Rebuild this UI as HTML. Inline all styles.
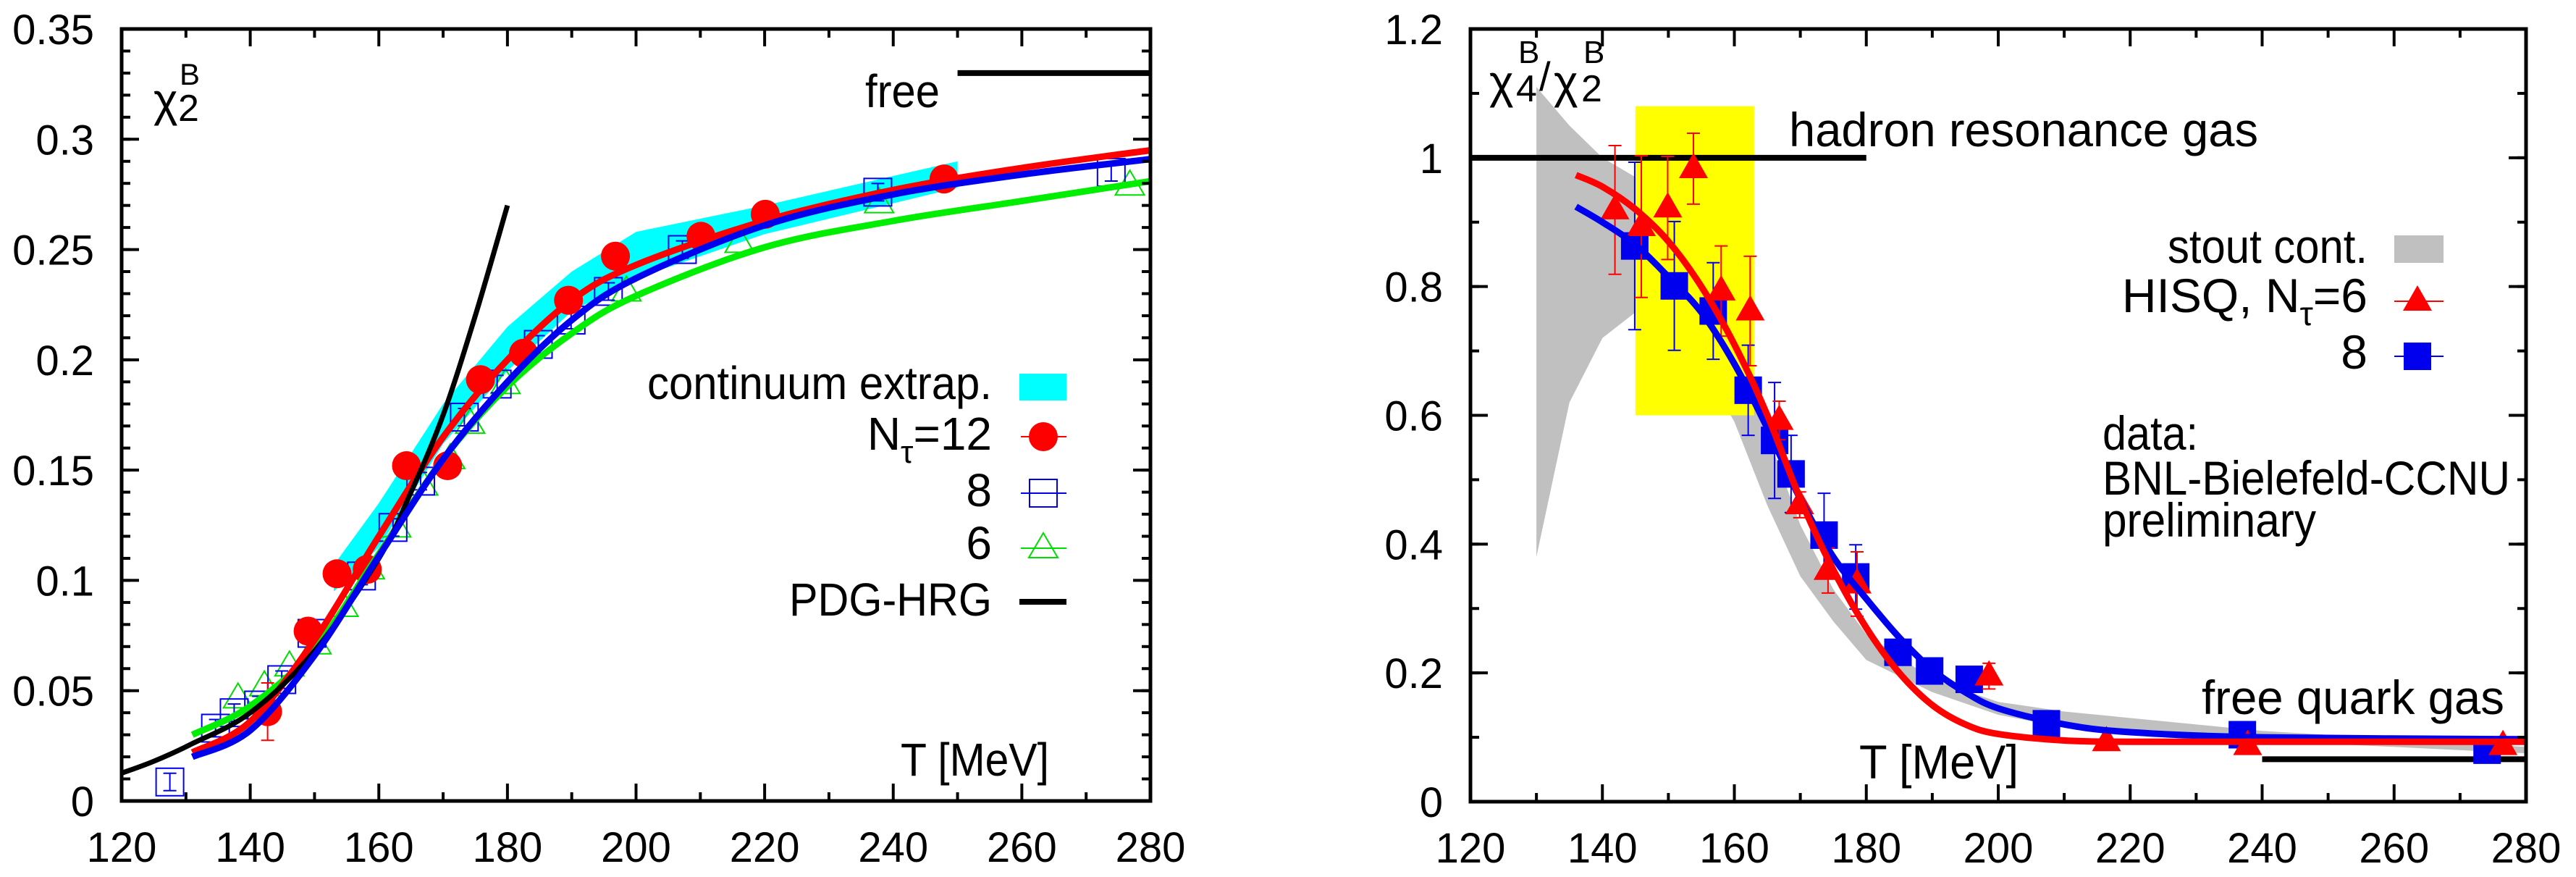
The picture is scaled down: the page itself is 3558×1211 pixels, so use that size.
<!DOCTYPE html>
<html><head><meta charset="utf-8"><style>
html,body{margin:0;padding:0;background:#fff;}
svg{display:block;font-family:"Liberation Sans",sans-serif;}
</style></head><body>
<svg id="fig" width="3558" height="1211" viewBox="0 0 3558 1211" xmlns="http://www.w3.org/2000/svg"></svg>
<script>
// ---------- Left chart data (chi2^B) ----------
const L_red_T = [142.7,149.0,153.5,158.2,164.3,170.7,175.8,182.5,189.5,196.8,210.1,220.1,247.9];
const L_red_V = [0.0405,0.077,0.103,0.105,0.152,0.152,0.191,0.203,0.227,0.247,0.256,0.266,0.282];
const L_red_E = [0.013,0.004,0.004,0.005,0.004,0.004,0.003,0.003,0.003,0.003,0.003,0.003,0.003];
const L_blue_T = [127.5,134.6,137.5,141.3,144.9,149.6,157.3,162.2,166.5,173.3,178.4,184.8,189.9,195.7,207.2,237.6,273.9];
const L_blue_V = [0.0086,0.033,0.040,0.0435,0.055,0.076,0.102,0.124,0.145,0.174,0.189,0.207,0.218,0.231,0.250,0.276,0.285];
const L_green_T = [138.1,142.2,146.1,150.3,154.5,158.6,162.7,166.9,171.1,174.2,179.7,198.5,216.1,237.8,276.8];
const L_green_V = [0.0465,0.052,0.061,0.071,0.088,0.105,0.124,0.143,0.155,0.171,0.189,0.231,0.253,0.271,0.279];
const L_fitT = [131,140,150,160,170,180,190,200,220,240,260,280];
const L_fitRed = [0.022,0.036,0.073,0.12,0.165,0.2,0.227,0.243,0.263,0.277,0.287,0.295];
const L_fitBlue = [0.020,0.032,0.066,0.111,0.155,0.19,0.218,0.237,0.261,0.275,0.284,0.291];
const L_fitGreen = [0.030,0.043,0.069,0.112,0.155,0.188,0.212,0.229,0.251,0.263,0.272,0.281];
const L_hrgT = [120,125,131,140,150,160,165,170,175,180];
const L_hrgV = [0.0126,0.018,0.026,0.040,0.068,0.110,0.140,0.175,0.220,0.270];
const L_bandT = [153,160,170,180,190,200,220,250];
const L_bandHi = [0.107,0.135,0.180,0.215,0.240,0.258,0.270,0.290];
const L_bandLo = [0.095,0.115,0.162,0.195,0.222,0.237,0.257,0.278];
const L_freeV = 0.33;
const L_xTicks = [120,140,160,180,200,220,240,260,280];
const L_yTicks = [0,0.05,0.1,0.15,0.2,0.25,0.3,0.35];
const L_yLabels = ["0","0.05","0.1","0.15","0.2","0.25","0.3","0.35"];

// ---------- Right chart data (chi4/chi2) ----------
const R_red_T = [141.9,145.9,149.9,153.8,158.0,162.4,166.8,169.9,174.2,178.6,198.6,216.4,237.8,276.5];
const R_red_V = [0.919,0.893,0.922,0.983,0.793,0.762,0.592,0.461,0.359,0.338,0.195,0.093,0.087,0.087];
const R_red_E = [0.10,0.11,0.08,0.055,0.07,0.085,0.03,0.02,0.035,0.05,0.02,0.005,0.005,0.005];
const R_blue_T = [144.9,150.9,156.8,162.1,166.1,168.6,173.6,178.4,184.8,189.6,195.6,207.3,237.0,274.1];
const R_blue_V = [0.863,0.801,0.762,0.639,0.561,0.509,0.414,0.349,0.232,0.203,0.190,0.121,0.104,0.080];
const R_blue_E = [0.13,0.10,0.075,0.07,0.09,0.06,0.065,0.05,0.01,0.01,0.01,0.01,0.01,0.01];
const R_fitT = [136,140,145,150,155,160,165,170,175,180,185,190,195,200,210,220,240,280];
const R_fitRed = [0.973,0.955,0.92,0.87,0.80,0.71,0.60,0.47,0.36,0.27,0.20,0.15,0.12,0.105,0.095,0.093,0.093,0.093];
const R_fitBlue = [0.924,0.90,0.865,0.815,0.76,0.68,0.58,0.47,0.38,0.315,0.255,0.205,0.17,0.145,0.12,0.108,0.10,0.097];
const R_bandT = [130,135,140,145,150,155,160,165,170,175,180,190,200,210,240,280];
const R_bandHi = [1.11,1.05,1.0,0.97,0.92,0.83,0.72,0.57,0.43,0.33,0.26,0.19,0.155,0.14,0.11,0.085];
const R_bandLo = [0.38,0.62,0.72,0.76,0.74,0.68,0.59,0.46,0.35,0.28,0.22,0.17,0.135,0.115,0.095,0.075];
const R_yellowT = [145,163];
const R_yellowV = [0.6,1.08];
const R_hrgV = 1.0;
const R_fqgV = 0.066;
const R_xTicks = [120,140,160,180,200,220,240,260,280];
const R_yTicks = [0,0.2,0.4,0.6,0.8,1,1.2];
const R_yLabels = ["0","0.2","0.4","0.6","0.8","1","1.2"];

const NS = "http://www.w3.org/2000/svg";
const svg = document.getElementById('fig');
function mk(tag, attrs, parent){
  const e = document.createElementNS(NS, tag);
  for (const k in attrs) e.setAttribute(k, attrs[k]);
  (parent||svg).appendChild(e);
  return e;
}
function txt(parent, x, y, s, size, anchor, len){
  const t = mk('text', {x:x, y:y, 'font-size':size, 'text-anchor':anchor||'start', fill:'#000'}, parent);
  if (len){ t.setAttribute('textLength', len); t.setAttribute('lengthAdjust','spacingAndGlyphs'); }
  t.textContent = s;
  return t;
}
function scales(x0,x1,y0,y1,vmax){
  return {sx: T => x0 + (T-120)/(160)*(x1-x0), sy: v => y0 - v/vmax*(y0-y1)};
}
function smoothD(Ts, Vs, S){
  const P = Ts.map((t,i)=>[S.sx(t),S.sy(Vs[i])]);
  let d = 'M'+P[0][0].toFixed(1)+','+P[0][1].toFixed(1);
  for (let i=0;i<P.length-1;i++){
    const p0=P[Math.max(i-1,0)],p1=P[i],p2=P[i+1],p3=P[Math.min(i+2,P.length-1)];
    const c1=[p1[0]+(p2[0]-p0[0])/6,p1[1]+(p2[1]-p0[1])/6];
    const c2=[p2[0]-(p3[0]-p1[0])/6,p2[1]-(p3[1]-p1[1])/6];
    d += 'C'+c1.map(v=>v.toFixed(1)).join(',')+' '+c2.map(v=>v.toFixed(1)).join(',')+' '+p2[0].toFixed(1)+','+p2[1].toFixed(1);
  }
  return d;
}
function bandD(Ts, Hi, Lo, S){
  let d = Ts.map((t,i)=>(i?'L':'M')+S.sx(t).toFixed(1)+','+S.sy(Hi[i]).toFixed(1)).join('');
  for (let i=Ts.length-1;i>=0;i--) d += 'L'+S.sx(Ts[i]).toFixed(1)+','+S.sy(Lo[i]).toFixed(1);
  return d+'Z';
}
function drawAxes(g, S, x0,x1,y0,y1, xT, yT, yL, yMinorStep, vmax){
  for (let T=130; T<280; T+=20){
    const x=S.sx(T);
    mk('line',{x1:x,y1:y0,x2:x,y2:y0-12,stroke:'#000','stroke-width':4},g);
    mk('line',{x1:x,y1:y1,x2:x,y2:y1+12,stroke:'#000','stroke-width':4},g);
  }
  for (let v=yMinorStep; v<vmax-1e-9; v+=yMinorStep){
    const y=S.sy(v);
    mk('line',{x1:x0,y1:y,x2:x0+12,y2:y,stroke:'#000','stroke-width':4},g);
    mk('line',{x1:x1,y1:y,x2:x1-12,y2:y,stroke:'#000','stroke-width':4},g);
  }
  xT.forEach(T=>{
    const x=S.sx(T);
    mk('line',{x1:x,y1:y0,x2:x,y2:y0-24,stroke:'#000','stroke-width':4},g);
    mk('line',{x1:x,y1:y1,x2:x,y2:y1+24,stroke:'#000','stroke-width':4},g);
    const t = txt(g, x, y0+84, String(T), 58, 'middle');
    
    
  });
  yT.forEach((v,i)=>{
    const y=S.sy(v);
    mk('line',{x1:x0,y1:y,x2:x0+24,y2:y,stroke:'#000','stroke-width':4},g);
    mk('line',{x1:x1,y1:y,x2:x1-24,y2:y,stroke:'#000','stroke-width':4},g);
    const t = txt(g, x0-38, y+21, yL[i], 58, 'end');
    
    
  });
}
function circle(g,x,y,col){ mk('circle',{cx:x,cy:y,r:20,fill:col},g); }
function openSquare(g,x,y,col){ mk('rect',{x:x-19,y:y-19,width:38,height:38,fill:'none',stroke:col,'stroke-width':2},g); }
function openTri(g,x,y,col){ mk('path',{d:`M${x},${y-21}L${x+20},${y+13}L${x-20},${y+13}Z`,fill:'none',stroke:col,'stroke-width':2},g); }
function fillTri(g,x,y,col){ mk('path',{d:`M${x},${y-22}L${x+20},${y+13}L${x-20},${y+13}Z`,fill:col},g); }
function fillSquare(g,x,y,col){ mk('rect',{x:x-19,y:y-19,width:38,height:38,fill:col},g); }
function errBar(g,x,yl,yh,col){
  mk('line',{x1:x,y1:yl,x2:x,y2:yh,stroke:col,'stroke-width':2},g);
  mk('line',{x1:x-9,y1:yl,x2:x+9,y2:yl,stroke:col,'stroke-width':2},g);
  mk('line',{x1:x-9,y1:yh,x2:x+9,y2:yh,stroke:col,'stroke-width':2},g);
}

// ================= LEFT =================
(function(){
  const x0=168,x1=1589,y0=1106,y1=40;
  const S = scales(x0,x1,y0,y1,0.35);
  const g = mk('g',{});
  
  
  const band = mk('path',{d:bandD(L_bandT,L_bandHi,L_bandLo,S),fill:'#00ffff'},g);
  
  
  const gg = mk('g',{},g);
  
  
  L_green_T.forEach((t,i)=>openTri(gg,S.sx(t),S.sy(L_green_V[i]),'#00dd00'));
  const gb = mk('g',{},g);
  
  
  L_blue_T.forEach((t,i)=>{ const x=S.sx(t),y=S.sy(L_blue_V[i]); openSquare(gb,x,y,'#0000ee'); errBar(gb,x,y-12,y+12,'#0000ee'); });
  const gr = mk('g',{},g);
  
  
  L_red_T.forEach((t,i)=>{ const x=S.sx(t),y=S.sy(L_red_V[i]); errBar(gr,x,S.sy(L_red_V[i]-L_red_E[i]),S.sy(L_red_V[i]+L_red_E[i]),'#ff0000'); circle(gr,x,y,'#ff0000'); });
  const lg = mk('path',{d:smoothD(L_fitT,L_fitGreen,S),fill:'none',stroke:'#00ee00','stroke-width':9},g);
  
  
  const lr = mk('path',{d:smoothD(L_fitT,L_fitRed,S),fill:'none',stroke:'#ff0000','stroke-width':9},g);
  
  
  const lh = mk('path',{d:smoothD(L_hrgT,L_hrgV,S),fill:'none',stroke:'#000','stroke-width':7},g);
  
  
  const lb = mk('path',{d:smoothD(L_fitT,L_fitBlue,S),fill:'none',stroke:'#0000ee','stroke-width':9},g);
  
  
  const fl = mk('line',{x1:S.sx(250),y1:S.sy(L_freeV),x2:x1,y2:S.sy(L_freeV),stroke:'#000','stroke-width':8},g);
  
  
  mk('rect',{x:x0,y:y1,width:x1-x0,height:y0-y1,fill:'none',stroke:'#000','stroke-width':5},g);
  drawAxes(g,S,x0,x1,y0,y1,L_xTicks,L_yTicks,L_yLabels,0.01,0.35);
  let t = txt(g,212,160,'χ',64);  
  t = txt(g,246,167,'2',52);  
  t = txt(g,248,117,'B',42);  
  t = txt(g,1195,148,'free',64,'start',103);  
  t = txt(g,1244,1071,'T [MeV]',64,'start',205);  
  const leg = mk('g',{},g);
  
  
  t = txt(leg,1370,551,'continuum extrap.',64,'end',476);  
  mk('rect',{x:1408,y:516,width:65,height:37,fill:'#00ffff'},leg);
  t = mk('text',{x:1370,y:621,'font-size':64,'text-anchor':'end',fill:'#000'},leg); t.innerHTML='N<tspan font-size="44" dy="18">τ</tspan><tspan dy="-18">=12</tspan>';
   
  mk('line',{x1:1410,y1:603,x2:1473,y2:603,stroke:'#ff0000','stroke-width':2},leg); circle(leg,1441,603,'#ff0000');
  t = txt(leg,1370,699,'8',64,'end');  
  mk('line',{x1:1410,y1:681,x2:1473,y2:681,stroke:'#0000ee','stroke-width':2},leg); openSquare(leg,1441,681,'#0000ee');
  t = txt(leg,1370,772,'6',64,'end');  
  mk('line',{x1:1410,y1:757,x2:1473,y2:757,stroke:'#00dd00','stroke-width':2},leg); openTri(leg,1441,757,'#00dd00');
  t = txt(leg,1370,850,'PDG-HRG',64,'end',280);  
  mk('line',{x1:1408,y1:831,x2:1473,y2:831,stroke:'#000','stroke-width':8},leg);
})();

// ================= RIGHT =================
(function(){
  const x0=2031,x1=3489,y0=1107,y1=40;
  const S = scales(x0,x1,y0,y1,1.2);
  const g = mk('g',{});
  
  
  const band = mk('path',{d:bandD(R_bandT,R_bandHi,R_bandLo,S),fill:'#c0c0c0'},g);
  
  
  const yr = mk('rect',{x:S.sx(R_yellowT[0]),y:S.sy(R_yellowV[1]),width:S.sx(R_yellowT[1])-S.sx(R_yellowT[0]),height:S.sy(R_yellowV[0])-S.sy(R_yellowV[1]),fill:'#ffff00'},g);
  
  
  const hl = mk('line',{x1:x0,y1:S.sy(R_hrgV),x2:S.sx(180),y2:S.sy(R_hrgV),stroke:'#000','stroke-width':8},g);
  
  
  const fq = mk('line',{x1:S.sx(240),y1:S.sy(R_fqgV),x2:x1,y2:S.sy(R_fqgV),stroke:'#000','stroke-width':8},g);
  
  
  const gb = mk('g',{},g);
  
  
  R_blue_T.forEach((t,i)=>{ const x=S.sx(t),v=R_blue_V[i]; errBar(gb,x,S.sy(v-R_blue_E[i]),S.sy(v+R_blue_E[i]),'#0000ee'); fillSquare(gb,x,S.sy(v),'#0000ee'); });
  const gr = mk('g',{},g);
  
  
  R_red_T.forEach((t,i)=>{ const x=S.sx(t),v=R_red_V[i]; errBar(gr,x,S.sy(v-R_red_E[i]),S.sy(v+R_red_E[i]),'#ff0000'); fillTri(gr,x,S.sy(v),'#ff0000'); });
  const lb = mk('path',{d:smoothD(R_fitT,R_fitBlue,S),fill:'none',stroke:'#0000ee','stroke-width':9},g);
  
  
  const lr = mk('path',{d:smoothD(R_fitT,R_fitRed,S),fill:'none',stroke:'#ff0000','stroke-width':9},g);
  
  
  mk('rect',{x:x0,y:y1,width:x1-x0,height:y0-y1,fill:'none',stroke:'#000','stroke-width':5},g);
  drawAxes(g,S,x0,x1,y0,y1,R_xTicks,R_yTicks,R_yLabels,0.1,1.2);
  let t = txt(g,2057,135,'χ',64);  
  t = txt(g,2094,140,'4',52);  
  t = txt(g,2097,87,'B',44);  
  t = txt(g,2126,125,'/',56);  
  t = txt(g,2146,135,'χ',64);  
  t = txt(g,2184,140,'2',52);  
  t = txt(g,2187,87,'B',44);  
  t = txt(g,2471,202,'hadron resonance gas',66,'start',648);  
  t = txt(g,3041,986,'free quark gas',66,'start',418);  
  t = txt(g,2568,1075,'T [MeV]',66,'start',220);  
  t = txt(g,2904,621,'data:',66,'start',132);  
  t = txt(g,2904,683,'BNL-Bielefeld-CCNU',66,'start',563);  
  t = txt(g,2904,741,'preliminary',66,'start',295);  
  const leg = mk('g',{},g);
  
  
  t = txt(leg,3270,363,'stout cont.',66,'end',276);  
  mk('rect',{x:3307,y:325,width:68,height:38,fill:'#c0c0c0'},leg);
  t = mk('text',{x:3270,y:431,'font-size':66,'text-anchor':'end',fill:'#000'},leg); t.innerHTML='HISQ, N<tspan font-size="46" dy="18">τ</tspan><tspan dy="-18">=6</tspan>';
   
  mk('line',{x1:3307,y1:416,x2:3375,y2:416,stroke:'#ff0000','stroke-width':2},leg); fillTri(leg,3339,416,'#ff0000');
  t = txt(leg,3270,509,'8',66,'end');  
  mk('line',{x1:3307,y1:492,x2:3375,y2:492,stroke:'#0000ee','stroke-width':2},leg); fillSquare(leg,3339,492,'#0000ee');
})();
</script>
</body></html>
